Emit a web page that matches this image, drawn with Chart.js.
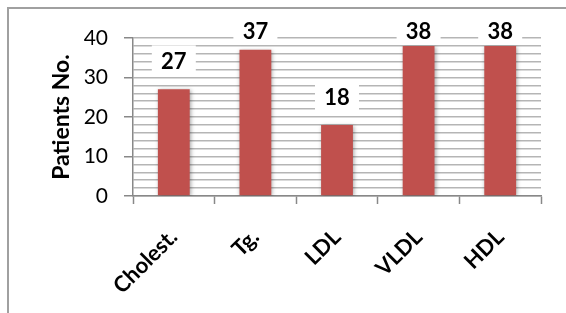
<!DOCTYPE html>
<html>
<head>
<meta charset="utf-8">
<script src="https://cdn.jsdelivr.net/npm/chart.js@4"></script>
<style>
	html, body { margin: 0; padding: 0; background: #fff; }
	#wrap { position: relative; width: 566px; height: 313px; overflow: hidden; }
	#frame { position: absolute; left: 7px; top: 7px; width: 600px; height: 400px; border: 2px solid #a0a0a0; box-sizing: border-box; }
	#draw { position: absolute; left: 0; top: 0; }
</style>
</head>
<body>
<div id="wrap">
	<div id="frame"></div>
	<canvas id="draw" width="566" height="313"></canvas>
</div>
<script>
const categories = ["Cholest.", "Tg.", "LDL", "VLDL", "HDL"];
const patients = [27, 37, 18, 38, 38];
const yTickLabels = [0, 10, 20, 30, 40];

const FONT = "Lato, 'Open Sans', sans-serif";

// shadow under bars + value labels on white boxes
const barExtras = {
	id: "barExtras",
	beforeDatasetsDraw(chart) {
		const ctx = chart.ctx;
		ctx.save();
		ctx.shadowColor = "rgba(0,0,0,0.35)";
		ctx.shadowBlur = 4;
		ctx.shadowOffsetX = 1;
		ctx.shadowOffsetY = 1;
	},
	afterDatasetsDraw(chart) {
		const ctx = chart.ctx;
		ctx.restore();
		const meta = chart.getDatasetMeta(0);
		ctx.save();
		ctx.font = "bold 22px " + FONT;
		ctx.textAlign = "center";
		ctx.textBaseline = "middle";
		meta.data.forEach((bar, i) => {
			const y = Math.max(bar.y - 28, 31);
			ctx.fillStyle = "#fff";
			ctx.fillRect(bar.x - 22, y - 16, 44, 30);
			ctx.fillStyle = "#000";
			ctx.fillText(String(patients[i]), bar.x, y + 1);
		});
		ctx.restore();
	}
};

const config = {
	type: "bar",
	data: {
		labels: categories,
		datasets: [
			{
				data: patients,
				backgroundColor: "#c0504d",
				borderWidth: 0,
				barPercentage: 0.39,
				categoryPercentage: 1,
			},
		],
	},
	options: {
		responsive: false,
		animation: false,
		layout: {
			padding: { left: 48, top: 38, right: 25, bottom: 0 },
		},
		plugins: {
			legend: { display: false },
			tooltip: { enabled: false },
		},
		scales: {
			y: {
				min: 0,
				max: 40,
				afterFit: (scale) => { scale.width = 85; },
				ticks: {
					stepSize: 2,
					autoSkip: false,
					padding: 16,
					color: "#000",
					font: { family: FONT, size: 21 },
					callback: (value) => (yTickLabels.includes(value) ? value : ""),
				},
				grid: {
					color: "#b5b5b5",
					lineWidth: 1.5,
					tickLength: 9,
					tickColor: (c) => (c.tick && c.tick.value % 10 === 0 ? "#888" : "rgba(0,0,0,0)"),
					tickWidth: 1.5,
				},
				border: { color: "#888", width: 1.5 },
				title: {
					display: true,
					text: "Patients No.",
					color: "#000",
					font: { family: FONT, size: 23, weight: "bold" },
					padding: 0,
				},
			},
			x: {
				afterFit: (scale) => { scale.height = 117; },
				ticks: {
					color: "#000",
					maxRotation: 45,
					minRotation: 45,
					padding: 20,
					font: { family: FONT, size: 22, weight: "bold" },
				},
				grid: {
					offset: true,
					drawOnChartArea: false,
					tickLength: 8,
					tickColor: "#888",
					tickWidth: 1.5,
				},
				border: { color: "#888", width: 1.5 },
			},
		},
	},
	plugins: [barExtras],
};

new Chart(document.getElementById("draw").getContext("2d"), config);
</script>
</body>
</html>
